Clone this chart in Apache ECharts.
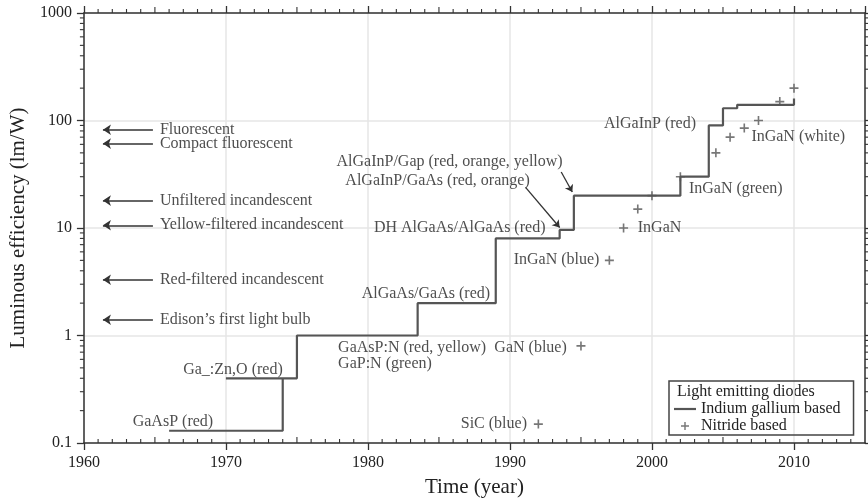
<!DOCTYPE html>
<html>
<head>
<meta charset="utf-8">
<script src="https://cdn.jsdelivr.net/npm/echarts@6/dist/echarts.min.js"></script>
<style>
  html, body { margin: 0; padding: 0; background: #fff; }
  #chart { width: 868px; height: 503px; }
</style>
</head>
<body>
<div id="chart"></div>
<script>
// Record efficiencies of indium-gallium based LEDs, listed as the corners of a staircase
const stepYears  = [1966, 1974, 1974, 1970, 1975, 1975, 1983.5, 1983.5, 1989, 1989, 1993.5, 1993.5, 1994.5, 1994.5, 2002, 2002, 2004, 2004, 2005, 2005, 2006, 2006, 2010, 2010];
const stepValues = [0.13, 0.13, 0.4, 0.4, 0.4, 1, 1, 2, 2, 8, 8, 9.6, 9.6, 20, 20, 30, 30, 90, 90, 130, 130, 140, 140, 160];

// Nitride based devices
const nitrideYears  = [1992, 1995, 1997, 1998, 1999, 2000, 2002, 2004.5, 2005.5, 2006.5, 2007.5, 2009, 2010];
const nitrideValues = [0.15, 0.8, 5, 10, 15, 20, 30, 50, 70, 85, 100, 150, 200];

// Conventional light sources (lm/W)
const lampNames  = ['Fluorescent', 'Compact fluorescent', 'Unfiltered incandescent', 'Yellow-filtered incandescent', 'Red-filtered incandescent', 'Edison\u2019s first light bulb'];
const lampValues = [82, 61, 18, 10.6, 3.3, 1.4];

// Axis tick labels
const xTickLabels = ['1960', '1970', '1980', '1990', '2000', '2010'];
const yTickLabels = ['0.1', '1', '10', '100', '1000'];

// Device annotations: text, anchor year, anchor value, text alignment
const noteTexts  = ['GaAsP (red)', 'Ga_:Zn,O (red)', 'GaAsP:N (red, yellow)', 'GaP:N (green)', 'AlGaAs/GaAs (red)',
                    'DH AlGaAs/AlGaAs (red)', 'AlGaInP/GaAs (red, orange)', 'AlGaInP/Gap (red, orange, yellow)',
                    'SiC (blue)', 'GaN (blue)', 'InGaN (blue)', 'InGaN', 'InGaN (green)', 'AlGaInP (red)', 'InGaN (white)'];
const noteYears  = [1969.1, 1974.0, 1977.9, 1977.9, 1988.6, 1992.5, 1984.9, 1985.75, 1991.2, 1994.0, 1996.3, 1999.0, 2002.6, 2003.1, 2007.0];
const noteValues = [0.158, 0.48, 0.775, 0.543, 2.43, 10, 27.5, 41, 0.151, 0.775, 5.07, 10, 23, 93, 70.3];
const noteAlign  = ['right', 'right', 'left', 'left', 'right', 'right', 'center', 'center', 'right', 'right', 'right', 'left', 'left', 'right', 'left'];

// Pointer arrows from the AlGaInP labels to their steps: [fromYear, fromValue, toYear, toValue]
const pointerArrows = [
  [1993.61, 33.2, 1994.39, 21.6],
  [1991.1, 23.9, 1993.5, 10.1]
];

const FONT = 'Liberation Serif';
const INK = '#222';
const LINE = '#555';

const plusPath = 'path://M41,0H59V41H100V59H59V100H41V59H0V41H41Z';
const dashPath = 'path://M0,0H22V2.2H0Z';

// Minor tick positions (yearly on x, 2..9 per decade on y)
const xMinor = [];
for (let y = 1961; y < 2015; y++) {
  if (y % 10 !== 0) xMinor.push([y, 1, y % 5 === 0 ? 6 : 4]);
}
const yMinor = [];
[0.1, 1, 10, 100].forEach(function (d) {
  for (let m = 2; m <= 9; m++) yMinor.push([1960, +(d * m).toPrecision(3), 4]);
});

function xTickRender(params, api) {
  const r = params.coordSys;
  const p = api.coord([api.value(0), api.value(1)]);
  const len = api.value(2);
  const style = { stroke: '#333', lineWidth: 1.1 };
  const yb = r.y + r.height, yt = r.y;
  return { type: 'group', children: [
    { type: 'line', shape: { x1: p[0], y1: yb, x2: p[0], y2: yb - len }, style: style },
    { type: 'line', shape: { x1: p[0], y1: yt, x2: p[0], y2: yt - len }, style: style }
  ]};
}
function yTickRender(params, api) {
  const r = params.coordSys;
  const p = api.coord([api.value(0), api.value(1)]);
  const len = api.value(2);
  const style = { stroke: '#333', lineWidth: 1.1 };
  const xl = r.x, xr = r.x + r.width;
  return { type: 'group', children: [
    { type: 'line', shape: { x1: xl, y1: p[1], x2: xl - len, y2: p[1] }, style: style },
    { type: 'line', shape: { x1: xr, y1: p[1], x2: xr + len, y2: p[1] }, style: style }
  ]};
}

const chart = echarts.init(document.getElementById('chart'), null, { renderer: 'canvas' });

const textBase = { fontFamily: FONT, fontSize: 16, color: INK };

chart.setOption({
  animation: false,
  backgroundColor: '#fff',
  textStyle: { fontFamily: FONT },
  grid: { left: 81, right: 3, top: 13, bottom: 60, containLabel: false },
  xAxis: [{
    type: 'value', min: 1960, max: 2015, interval: 10,
    name: 'Time (year)', nameLocation: 'middle', nameGap: 34,
    nameTextStyle: { fontFamily: FONT, fontSize: 21, color: INK },
    axisLine: { lineStyle: { color: '#333', width: 1.5 } },
    axisTick: { show: true, length: 7, lineStyle: { color: '#333', width: 1.3 } },
    axisLabel: {
      margin: 12, fontFamily: FONT, fontSize: 16, color: INK, showMaxLabel: false,
      formatter: function (v) { return v % 10 === 0 ? xTickLabels[(v - 1960) / 10] : ''; }
    },
    splitLine: { show: true, lineStyle: { color: '#e6e6e6', width: 1.5 } }
  }, {
    type: 'value', min: 1960, max: 2015, interval: 10, position: 'top',
    axisLine: { lineStyle: { color: '#333', width: 1.5 } },
    axisTick: { show: true, length: 7, lineStyle: { color: '#333', width: 1.3 } },
    axisLabel: { show: false },
    splitLine: { show: false }
  }],
  yAxis: [{
    type: 'log', logBase: 10, min: 0.1, max: 1000,
    name: 'Luminous efficiency (lm/W)', nameLocation: 'middle', nameGap: 54,
    nameTextStyle: { fontFamily: FONT, fontSize: 21, color: INK },
    axisLine: { show: true, lineStyle: { color: '#333', width: 1.5 } },
    axisTick: { show: true, length: 7, lineStyle: { color: '#333', width: 1.3 } },
    axisLabel: {
      margin: 12, fontFamily: FONT, fontSize: 16, color: INK,
      formatter: function (v, i) { return yTickLabels[i]; }
    },
    splitLine: { show: true, lineStyle: { color: '#e6e6e6', width: 1.5 } }
  }, {
    type: 'log', logBase: 10, min: 0.1, max: 1000, position: 'right',
    axisLine: { show: true, lineStyle: { color: '#333', width: 1.5 } },
    axisTick: { show: true, length: 5, lineStyle: { color: '#333', width: 1.3 } },
    axisLabel: { show: false },
    splitLine: { show: false }
  }],
  legend: {
    left: 669, top: 381, orient: 'vertical',
    data: [{ name: 'Indium gallium based', icon: dashPath }, { name: 'Nitride based' }],
    itemWidth: 22, itemHeight: 8, itemGap: 1,
    padding: [20, 13, 1, 5],
    borderColor: '#444', borderWidth: 1.5,
    textStyle: { fontFamily: FONT, fontSize: 16, color: INK },
    selectedMode: false
  },
  graphic: [{
    type: 'text', left: 677, top: 384,
    style: { text: 'Light emitting diodes', font: '16px "Liberation Serif"', fill: INK }
  }],
  series: [
    {
      type: 'custom', name: 'xMinorTicks', renderItem: xTickRender, data: xMinor,
      silent: true, clip: false, z: 3
    },
    {
      type: 'custom', name: 'yMinorTicks', renderItem: yTickRender, data: yMinor,
      silent: true, clip: false, z: 3
    },
    {
      type: 'line', name: 'Indium gallium based',
      data: stepYears.map(function (y, i) { return [y, stepValues[i]]; }),
      symbol: 'none', lineStyle: { color: LINE, width: 2.2 }, itemStyle: { color: LINE },
      z: 4
    },
    {
      type: 'scatter', name: 'Nitride based',
      data: nitrideYears.map(function (y, i) { return [y, nitrideValues[i]]; }),
      symbol: plusPath, symbolSize: 9, itemStyle: { color: LINE }, z: 5
    },
    {
      type: 'lines', name: 'lampArrows', coordinateSystem: 'cartesian2d',
      data: lampValues.map(function (v) { return { coords: [[1964.86, v], [1961.34, v]] }; }),
      symbol: ['none', 'arrow'], symbolSize: [0, 8],
      lineStyle: { color: '#333', width: 1.6, opacity: 1 }, silent: true, z: 4
    },
    {
      type: 'lines', name: 'pointerArrows', coordinateSystem: 'cartesian2d',
      data: pointerArrows.map(function (a) { return { coords: [[a[0], a[1]], [a[2], a[3]]] }; }),
      symbol: ['none', 'arrow'], symbolSize: [0, 7],
      lineStyle: { color: '#333', width: 1.3, opacity: 1 }, silent: true, z: 4
    },
    {
      type: 'scatter', name: 'lampLabels',
      data: lampValues.map(function (v, i) { return { value: [1965.35, v], name: lampNames[i] }; }),
      symbolSize: 0, silent: true, z: 6,
      label: {
        show: true, position: [0, 0], align: 'left', verticalAlign: 'middle',
        formatter: function (p) { return p.name; }, ...textBase
      }
    },
    {
      type: 'scatter', name: 'notes',
      data: noteTexts.map(function (t, i) {
        return { value: [noteYears[i], noteValues[i]], name: t, label: { align: noteAlign[i] } };
      }),
      symbolSize: 0, silent: true, z: 6,
      label: {
        show: true, position: [0, 0], verticalAlign: 'middle',
        formatter: function (p) { return p.name; }, ...textBase
      }
    }
  ]
});
</script>
</body>
</html>
